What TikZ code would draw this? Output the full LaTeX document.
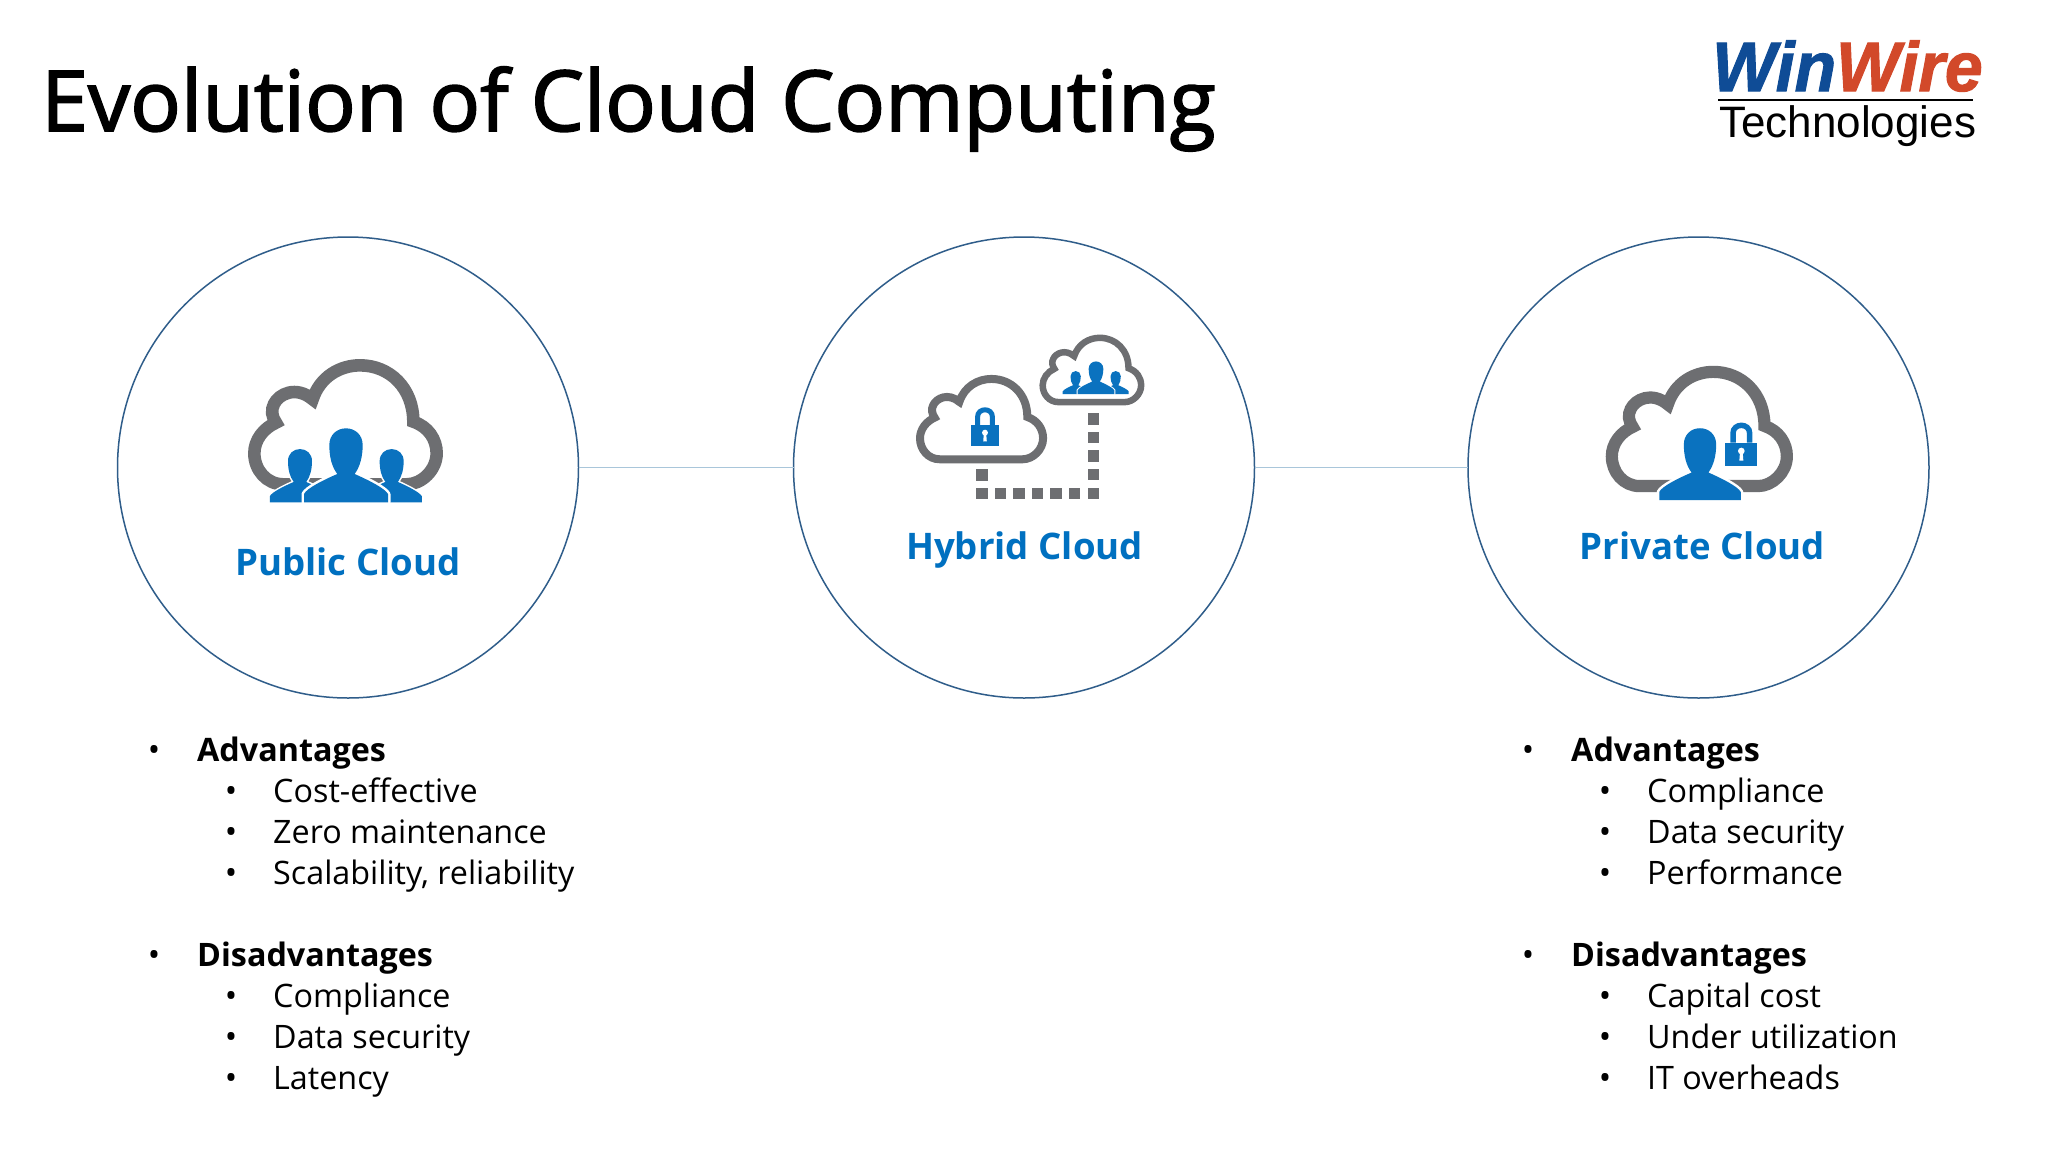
\documentclass[tikz,border=0pt]{standalone}
\usepackage{fontspec}
\setmainfont{Open Sans}
\newfontfamily\titlefont[FakeBold=2]{Open Sans}
\newfontfamily\logofont{Liberation Sans}
\newfontfamily\logotopfont[FakeStretch=0.97,FakeBold=1.5]{Liberation Sans Bold Italic}
\definecolor{ringblue}{HTML}{2F5D8A}
\definecolor{linkblue}{HTML}{A9C6DA}
\definecolor{iconblue}{HTML}{0A72BF}
\definecolor{icongray}{HTML}{6D6E71}
\definecolor{labelblue}{HTML}{0070C0}
\definecolor{winblue}{HTML}{0F4C96}
\definecolor{winred}{HTML}{D2492A}
\tikzset{
  ring/.style={circle,draw=ringblue,line width=1.5pt,minimum size=461pt,inner sep=0pt,outer sep=0pt},
  link/.style={draw=linkblue,line width=1.2pt},
  titletext/.style={anchor=base west,inner sep=0pt,font=\titlefont\fontsize{84.2}{90}\selectfont},
  labeltext/.style={anchor=base,inner sep=0pt,text=labelblue,font=\fontsize{36.6}{44}\selectfont\bfseries},
  headtext/.style={anchor=base west,inner sep=0pt,font=\fontsize{32.3}{40}\selectfont\bfseries},
  itemtext/.style={anchor=base west,inner sep=0pt,font=\fontsize{32.3}{40}\selectfont},
  bullettext/.style={anchor=base,inner sep=0pt,font=\fontsize{33}{40}\selectfont},
  sq/.style={fill=icongray,draw=none},
}
% cloud outline, in the icon's own units
\newcommand\CloudAt[4]{\begin{scope}[shift={(#1,#2)},scale=#3]
  \draw[icongray,line width=#4,miter limit=10,line join=miter]
    (250,493) .. controls (200,493) and (163,450) .. (163,400)
    .. controls (163,360) and (190,325) .. (228,308)
    .. controls (216,292) and (212,270) .. (222,252)
    .. controls (236,222) and (288,196) .. (338,238)
    .. controls (360,170) and (420,136) .. (480,136)
    .. controls (570,136) and (640,205) .. (640,305)
    .. controls (685,320) and (710,358) .. (710,400)
    .. controls (710,450) and (665,493) .. (620,493) -- cycle;
\end{scope}}
% person: x, y of the bottom centre, scale, halo width
\newcommand\PersonAt[4]{\begin{scope}[shift={(#1,#2)},scale=#3]
  \fill[iconblue,preaction={draw=white,line width=#4,line join=round}]
    (-126,0) -- (-126,-25) .. controls (-118,-42) and (-68,-67) .. (-26,-85)
    .. controls (-43,-107) and (-50,-137) .. (-50,-172)
    .. controls (-50,-202) and (-28,-222) .. (0,-222)
    .. controls (28,-222) and (50,-202) .. (50,-172)
    .. controls (50,-137) and (42,-107) .. (26,-85)
    .. controls (67,-67) and (117,-42) .. (126,-25) -- (126,0) -- cycle;
\end{scope}}
% lock: x, y of the bottom centre, scale, shackle width
\newcommand\LockAt[4]{\begin{scope}[shift={(#1,#2)},scale=#3]
  \draw[iconblue,line width=#4] (-25,-70) -- (-25,-98) .. controls (-25,-130) and (25,-130) .. (25,-98) -- (25,-70);
  \fill[iconblue] (-48,-70) rectangle (48,0);
  \fill[white] (0,-45) circle (10);
  \fill[white] (-4,-42) -- (4,-42) -- (6,-16) -- (-6,-16) -- cycle;
\end{scope}}
\newcommand\SqAt[2]{\fill[sq] (#1-17,#2-17) rectangle (#1+17,#2+17);}
\begin{document}
\begin{tikzpicture}[x=1pt,y=-1pt]
\useasboundingbox (0,0) rectangle (2048,1152);
\fill[white] (0,0) rectangle (2048,1152);

\node[titletext] (title) at (41,131) {Evolution of Cloud Computing};

% logo
\node[anchor=base west,inner sep=0pt,text=winblue,font=\logotopfont\fontsize{70}{70}\selectfont] (logotop) at (1712,91) {Win\textcolor{winred}{Wire}};
\node[anchor=base west,inner sep=0pt,font=\logofont\fontsize{44}{46}\selectfont] (logobottom) at (1719,137) {Technologies};
\coordinate (rulel) at (1718,100);
\coordinate (ruler) at (1973,100);
\draw[black,line width=1.8pt] (rulel) -- (ruler);

% circles and connectors
\node[ring] (pub) at (348,467.5) {};
\node[ring] (hyb) at (1024,467.5) {};
\node[ring] (pri) at (1698.5,467.5) {};
\draw[link] (pub) -- (hyb);
\draw[link] (hyb) -- (pri);

\node[labeltext] (publabel) at (348,575) {Public Cloud};
\node[labeltext] (hyblabel) at (1024.5,559) {Hybrid Cloud};
\node[labeltext] (prilabel) at (1702.5,559) {Private Cloud};

% public icon
\begin{scope}[shift={(200,320)},scale=1/3]
  \CloudAt{0}{0}{1}{12.6pt}
  \PersonAt{300}{547}{0.72}{3pt}
  \PersonAt{575}{547}{0.72}{3pt}
  \PersonAt{438}{547}{1}{5pt}
\end{scope}

% hybrid icon
\begin{scope}[shift={(880,310)},scale=1/3]
  \CloudAt{10}{115}{0.675}{8pt}
  \CloudAt{400}{10}{0.54}{6.5pt}
  \LockAt{315}{408}{0.89}{5pt}
  \PersonAt{587}{252}{0.31}{1.2pt}
  \PersonAt{707}{252}{0.31}{1.2pt}
  \PersonAt{648}{252}{0.44}{2pt}
  \SqAt{640}{327}\SqAt{640}{383}\SqAt{640}{438}\SqAt{640}{494}\SqAt{640}{550}
  \SqAt{584}{550}\SqAt{528}{550}\SqAt{472}{550}\SqAt{417}{550}\SqAt{361}{550}\SqAt{306}{550}\SqAt{306}{495}
\end{scope}

% private icon
\begin{scope}[shift={(1580,340)},scale=1/3]
  \CloudAt{-61}{-35}{0.96}{12.2pt}
  \PersonAt{360}{480}{0.97}{5pt}
  \LockAt{484}{378}{1}{5.5pt}
\end{scope}

% lists
\newcommand\ListRow[6]{%
  \node[bullettext] (#1b) at (#2,#4) {•};
  \node[#6] (#1t) at (#3,#4) {#5};}
\ListRow{la}{154}{197}{761}{Advantages}{headtext}
\ListRow{lb}{231}{273}{802}{Cost-effective}{itemtext}
\ListRow{lc}{231}{273}{843}{Zero maintenance}{itemtext}
\ListRow{ld}{231}{273}{884}{Scalability, reliability}{itemtext}
\ListRow{le}{154}{197}{966}{Disadvantages}{headtext}
\ListRow{lf}{231}{273}{1007}{Compliance}{itemtext}
\ListRow{lg}{231}{273}{1048}{Data security}{itemtext}
\ListRow{lh}{231}{273}{1089}{Latency}{itemtext}
\ListRow{ra}{1528}{1571}{761}{Advantages}{headtext}
\ListRow{rb}{1605}{1647}{802}{Compliance}{itemtext}
\ListRow{rc}{1605}{1647}{843}{Data security}{itemtext}
\ListRow{rd}{1605}{1647}{884}{Performance}{itemtext}
\ListRow{re}{1528}{1571}{966}{Disadvantages}{headtext}
\ListRow{rf}{1605}{1647}{1007}{Capital cost}{itemtext}
\ListRow{rg}{1605}{1647}{1048}{Under utilization}{itemtext}
\ListRow{rh}{1605}{1647}{1089}{IT overheads}{itemtext}
\end{tikzpicture}
\end{document}
